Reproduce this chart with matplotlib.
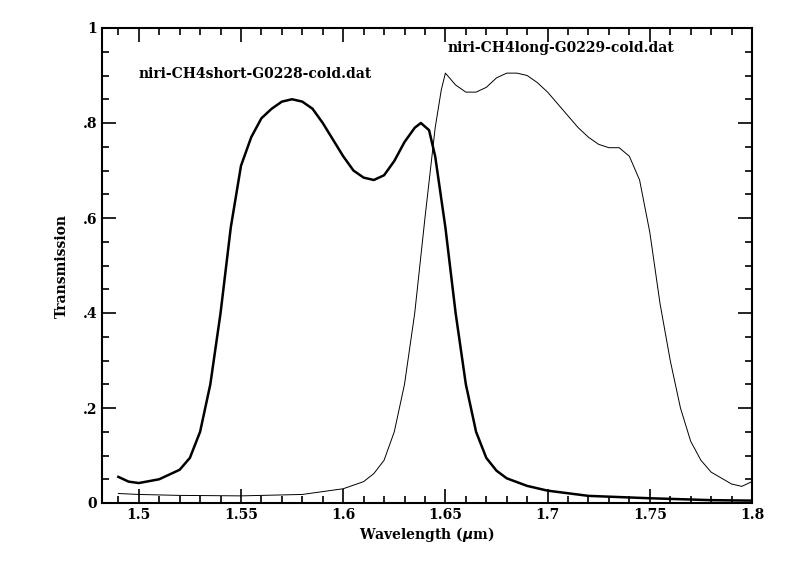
import numpy as np
import matplotlib.pyplot as plt
from matplotlib.ticker import MultipleLocator, FuncFormatter

# wavelengths (um) and transmission
short_wl = [1.49, 1.495, 1.50, 1.51, 1.52, 1.525, 1.53, 1.535, 1.54, 1.545, 1.55, 1.555, 1.56, 1.565,
            1.57, 1.575, 1.58, 1.585, 1.59, 1.595, 1.60, 1.605, 1.61, 1.615, 1.62, 1.625, 1.63,
            1.635, 1.638, 1.642, 1.645, 1.65, 1.655, 1.66, 1.665, 1.67, 1.675, 1.68, 1.69, 1.70,
            1.72, 1.75, 1.78, 1.80]
short_tr = [0.055, 0.045, 0.042, 0.05, 0.07, 0.095, 0.15, 0.25, 0.40, 0.58, 0.71, 0.77, 0.81, 0.83,
            0.845, 0.85, 0.845, 0.83, 0.80, 0.765, 0.73, 0.70, 0.685, 0.68, 0.69, 0.72, 0.76,
            0.79, 0.80, 0.785, 0.73, 0.58, 0.40, 0.25, 0.15, 0.095, 0.068, 0.052, 0.036, 0.026,
            0.015, 0.01, 0.006, 0.005]

long_wl = [1.49, 1.50, 1.52, 1.55, 1.58, 1.60, 1.61, 1.615, 1.62, 1.625, 1.63, 1.635, 1.64, 1.645,
           1.648, 1.65, 1.655, 1.66, 1.665, 1.67, 1.675, 1.68, 1.685, 1.69, 1.695, 1.70, 1.705,
           1.71, 1.715, 1.72, 1.725, 1.73, 1.735, 1.74, 1.745, 1.75, 1.755, 1.76, 1.765, 1.77,
           1.775, 1.78, 1.79, 1.795, 1.80]
long_tr = [0.02, 0.018, 0.016, 0.015, 0.018, 0.03, 0.045, 0.062, 0.09, 0.15, 0.25, 0.40, 0.60, 0.79,
           0.87, 0.905, 0.88, 0.865, 0.865, 0.875, 0.895, 0.905, 0.905, 0.9, 0.885, 0.865, 0.84,
           0.815, 0.79, 0.77, 0.755, 0.748, 0.748, 0.73, 0.68, 0.57, 0.42, 0.30, 0.20, 0.13,
           0.09, 0.065, 0.04, 0.035, 0.045]

plt.rcParams['font.family'] = 'DejaVu Serif'
plt.rcParams['font.weight'] = 'bold'

fig = plt.figure(figsize=(7.91, 5.81), dpi=100)
ax = fig.add_axes([102/791, 1-503/581, 650/791, 475/581])

ax.plot(short_wl, short_tr, color='black', lw=1.8)
ax.plot(long_wl, long_tr, color='black', lw=0.7)

ax.text(1.5, 0.895, 'niri-CH4short-G0228-cold.dat', fontsize=10, fontweight='bold')
ax.text(1.651, 0.95, 'niri-CH4long-G0229-cold.dat', fontsize=10, fontweight='bold')

ax.set_xlim(1.482, 1.8)
ax.set_ylim(0, 1)
ax.xaxis.set_major_locator(MultipleLocator(0.05))
ax.xaxis.set_minor_locator(MultipleLocator(0.01))
ax.yaxis.set_major_locator(MultipleLocator(0.2))
ax.yaxis.set_minor_locator(MultipleLocator(0.05))
ax.xaxis.set_major_formatter(FuncFormatter(lambda v, p: f'{v:.2f}'.rstrip('0')))
ax.yaxis.set_major_formatter(FuncFormatter(
    lambda v, p: '0' if abs(v) < 1e-9 else ('1' if abs(v-1) < 1e-9 else f'{v:.1f}'.lstrip('0'))))
ax.tick_params(which='both', direction='in', top=True, right=True, labelsize=10, width=1.2)
ax.tick_params(which='major', length=10)
ax.tick_params(which='minor', length=5)
for s in ax.spines.values():
    s.set_linewidth(1.5)

ax.set_xlabel('Wavelength ($\\mu$m)', fontsize=10, fontweight='bold', labelpad=2)
ax.set_ylabel('Transmission', fontsize=10, fontweight='bold', labelpad=10)

fig.savefig('out.png', dpi=100)
